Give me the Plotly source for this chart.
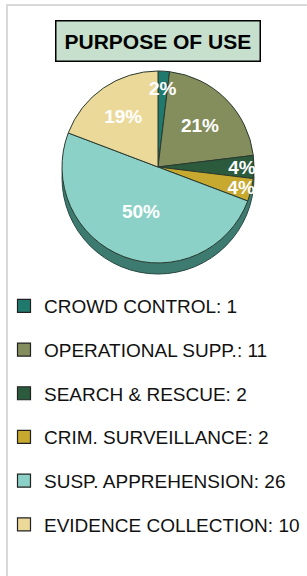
import math
import plotly.graph_objects as go

categories = ["CROWD CONTROL", "OPERATIONAL SUPP.", "SEARCH & RESCUE",
              "CRIM. SURVEILLANCE", "SUSP. APPREHENSION", "EVIDENCE COLLECTION"]
values = [1, 11, 2, 2, 26, 10]
colors = ["#1f7a6d", "#848d5c", "#2b5b3c", "#c6a92e", "#8bd1c7", "#ebd99a"]
title_text = "PURPOSE OF USE"

W, H = 307, 576

def px_x(p):
    return p / W

def px_y(p):
    return 1 - p / H

# pie geometry (pixels)
PIE_L, PIE_R, PIE_T = 62, 254, 71
PIE_D = PIE_R - PIE_L
PIE_B = PIE_T + PIE_D
DEPTH = 11

total = sum(values)
pct = [v / total for v in values]
# slices too thin for plotly's inside label: place label from slice geometry
small = [p < 0.03 for p in pct]

texttemplates = ["" if s else "<b>%{percent:.0%}</b>" for s in small]

fig = go.Figure()

fig.add_trace(go.Pie(
    labels=categories,
    values=values,
    sort=False,
    direction="clockwise",
    rotation=0,
    marker=dict(colors=colors, line=dict(color="#2a3a30", width=1)),
    texttemplate=texttemplates,
    textposition="inside",
    insidetextorientation="horizontal",
    insidetextfont=dict(color="white", size=19, family="Liberation Sans"),
    showlegend=False,
    hoverinfo="label+value+percent",
    domain=dict(x=[px_x(PIE_L), px_x(PIE_R)], y=[px_y(PIE_B), px_y(PIE_T)]),
))

annotations = [dict(
    text=f"<b>{title_text}</b>",
    x=px_x(158), y=px_y(41), xref="paper", yref="paper",
    xanchor="center", yanchor="middle", showarrow=False,
    font=dict(family="Liberation Sans", size=21, color="black"),
    bgcolor="#c6e0cd", bordercolor="black", borderwidth=1.5, borderpad=8,
)]

cx, cy, r = (PIE_L + PIE_R) / 2, (PIE_T + PIE_B) / 2, PIE_D / 2
cum = 0.0
for p, s in zip(pct, small):
    mid = (cum + p / 2) * 2 * math.pi
    cum += p
    if s:
        annotations.append(dict(
            text=f"<b>{round(p * 100)}%</b>",
            x=px_x(cx + 0.82 * r * math.sin(mid)),
            y=px_y(cy - 0.82 * r * math.cos(mid)),
            xref="paper", yref="paper", showarrow=False,
            xanchor="center", yanchor="middle",
            font=dict(family="Liberation Sans", size=19, color="white"),
        ))

for cat, val, col in zip(categories, values, colors):
    fig.add_trace(go.Scatter(
        x=[None], y=[None], mode="markers",
        name=f"{cat}: {val}",
        legendgroup=cat,
        marker=dict(symbol="square", size=13, color=col,
                    line=dict(color="#222222", width=1.2)),
    ))

fig.update_layout(
    width=W, height=H,
    margin=dict(l=0, r=0, t=0, b=0),
    paper_bgcolor="white",
    plot_bgcolor="white",
    xaxis=dict(visible=False),
    yaxis=dict(visible=False),
    showlegend=True,
    uniformtext=dict(minsize=19, mode="show"),
    legend=dict(
        x=px_x(4), y=px_y(287), xanchor="left", yanchor="top",
        font=dict(family="Liberation Sans", size=19, color="#111111"),
        tracegroupgap=16,
        bgcolor="rgba(0,0,0,0)",
    ),
    annotations=annotations,
    shapes=[
        dict(type="rect", xref="paper", yref="paper",
             x0=px_x(7), x1=1.05, y0=-0.05, y1=px_y(5),
             line=dict(color="#d9d9d9", width=2), layer="below"),
        dict(type="circle", xref="paper", yref="paper",
             x0=px_x(PIE_L), x1=px_x(PIE_R),
             y0=px_y(PIE_B + DEPTH), y1=px_y(PIE_T + DEPTH),
             fillcolor="#3d7b70", line=dict(color="#2a4a44", width=1),
             layer="below"),
    ],
)

fig.write_html("out.html", config={"displayModeBar": False},
               post_script="document.body.style.margin='0px';")
